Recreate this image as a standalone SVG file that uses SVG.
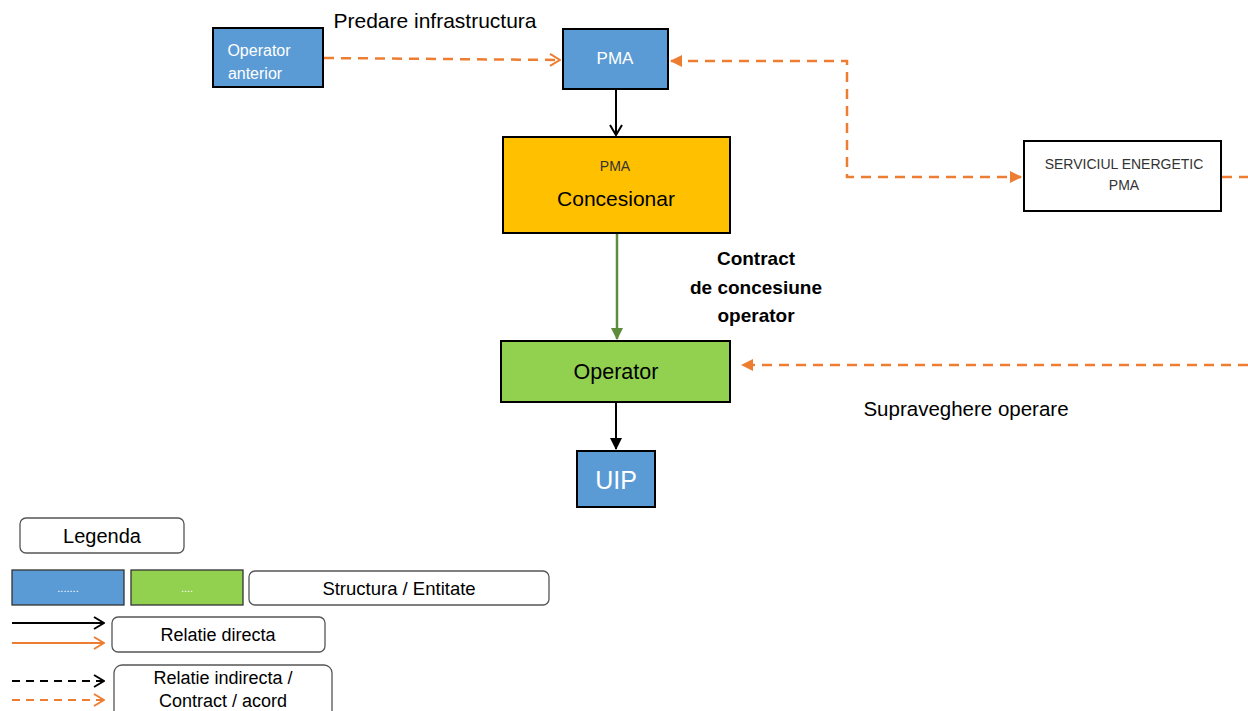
<svg xmlns="http://www.w3.org/2000/svg" width="1248" height="711" viewBox="0 0 1248 711">
<style>
text{font-family:"Liberation Sans","Open Sans",sans-serif;text-anchor:middle}
.box{stroke:#000;stroke-width:2}
.blue{fill:#5B9BD5}
.green{fill:#92D050}
.yellow{fill:#FFC000}
.white{fill:#fff}
.leg{fill:#fff;stroke:#555;stroke-width:1.3}
.od{fill:none;stroke:#ED7D31;stroke-width:2.5;stroke-dasharray:10 7}
.od2{fill:none;stroke:#ED7D31;stroke-width:2;stroke-dasharray:8 6}
.bl{fill:none;stroke:#000;stroke-width:2}
.wt{fill:#fff}
</style>
<defs>
<marker id="openO" markerWidth="12" markerHeight="14" refX="11" refY="7" orient="auto" markerUnits="userSpaceOnUse"><path d="M1,1 L11,7 L1,13" fill="none" stroke="#ED7D31" stroke-width="2"/></marker>
<marker id="openB" markerWidth="12" markerHeight="14" refX="11" refY="7" orient="auto" markerUnits="userSpaceOnUse"><path d="M1,1 L11,7 L1,13" fill="none" stroke="#000" stroke-width="2"/></marker>
<marker id="triO" markerWidth="12" markerHeight="12" refX="11" refY="6" orient="auto-start-reverse" markerUnits="userSpaceOnUse"><path d="M0,0 L12,6 L0,12 Z" fill="#ED7D31"/></marker>
<marker id="triB" markerWidth="12" markerHeight="12" refX="11" refY="6" orient="auto" markerUnits="userSpaceOnUse"><path d="M0,0 L12,6 L0,12 Z" fill="#000"/></marker>
<marker id="triG" markerWidth="12" markerHeight="12" refX="11" refY="6" orient="auto" markerUnits="userSpaceOnUse"><path d="M0,0 L12,6 L0,12 Z" fill="#5E8C3A"/></marker>
</defs>
<rect width="1248" height="711" fill="#fff"/>

<g id="connectors">
<path class="od" d="M324,58 L560,60" marker-end="url(#openO)"/>
<path class="bl" d="M616,90 L616,135" marker-end="url(#openB)"/>
<path class="od" d="M671,61 L847,61 L847,177 L1021,177" marker-start="url(#triO)" marker-end="url(#triO)"/>
<path class="od" d="M1222,177 L1248,177"/>
<path fill="none" stroke="#5E8C3A" stroke-width="2.5" d="M617,234 L617,339" marker-end="url(#triG)"/>
<path class="od" d="M1248,365 L742,365" marker-end="url(#triO)"/>
<path class="bl" d="M616,403 L616,449" marker-end="url(#triB)"/>
</g>

<g id="label-predare"><text x="435" y="28" font-size="21">Predare infrastructura</text></g>
<g id="label-contract" font-size="19">
<text x="756" y="265" font-weight="bold">Contract</text>
<text x="756" y="294" font-weight="bold">de concesiune</text>
<text x="756" y="322" font-weight="bold">operator</text>
</g>
<g id="label-supraveghere"><text x="966" y="416" font-size="20.5">Supraveghere operare</text></g>

<g id="n-operator-anterior">
<rect class="box blue" x="213" y="28" width="110" height="59"/>
<text class="wt" x="259" y="56" font-size="16">Operator</text>
<text class="wt" x="255" y="79" font-size="16">anterior</text>
</g>
<g id="n-pma">
<rect class="box blue" x="563" y="29" width="105" height="60"/>
<text class="wt" x="615" y="64" font-size="17">PMA</text>
</g>
<g id="n-concesionar">
<rect class="box yellow" x="503" y="137" width="227" height="96"/>
<text x="615" y="171" font-size="14" fill="#333">PMA</text>
<text x="616" y="206" font-size="21">Concesionar</text>
</g>
<g id="n-serviciul">
<rect class="box white" x="1024" y="141" width="197" height="70"/>
<text x="1124" y="169" font-size="14" fill="#333">SERVICIUL ENERGETIC</text>
<text x="1124" y="190" font-size="14" fill="#333">PMA</text>
</g>
<g id="n-operator">
<rect class="box green" x="501" y="341" width="229" height="61"/>
<text x="616" y="379" font-size="21.5">Operator</text>
</g>
<g id="n-uip">
<rect class="box blue" x="577" y="451" width="78" height="56"/>
<text class="wt" x="616" y="489" font-size="25">UIP</text>
</g>

<g id="legend">
<rect class="leg" x="20" y="518" width="164" height="35" rx="6"/>
<text x="102" y="543" font-size="20">Legenda</text>
<rect class="blue" x="12" y="570" width="112" height="35" stroke="#333" stroke-width="1.3"/>
<text class="wt" x="68" y="592" font-size="11">.......</text>
<rect class="green" x="131" y="570" width="112" height="35" stroke="#333" stroke-width="1.3"/>
<text class="wt" x="187" y="592" font-size="11">....</text>
<rect class="leg" x="249" y="571" width="300" height="34" rx="6"/>
<text x="399" y="595" font-size="18.5">Structura / Entitate</text>
<path class="bl" d="M12,623 L104,623" marker-end="url(#openB)"/>
<path fill="none" stroke="#ED7D31" stroke-width="2" d="M12,643 L104,643" marker-end="url(#openO)"/>
<rect class="leg" x="112" y="617" width="213" height="35" rx="6"/>
<text x="218" y="641" font-size="18">Relatie directa</text>
<path fill="none" stroke="#000" stroke-width="2" stroke-dasharray="8 6" d="M12,681 L104,681" marker-end="url(#openB)"/>
<path class="od2" d="M12,700 L104,700" marker-end="url(#openO)"/>
<rect class="leg" x="114" y="665" width="218" height="55" rx="8"/>
<text x="223" y="684" font-size="18">Relatie indirecta /</text>
<text x="223" y="707" font-size="18">Contract / acord</text>
</g>
</svg>
